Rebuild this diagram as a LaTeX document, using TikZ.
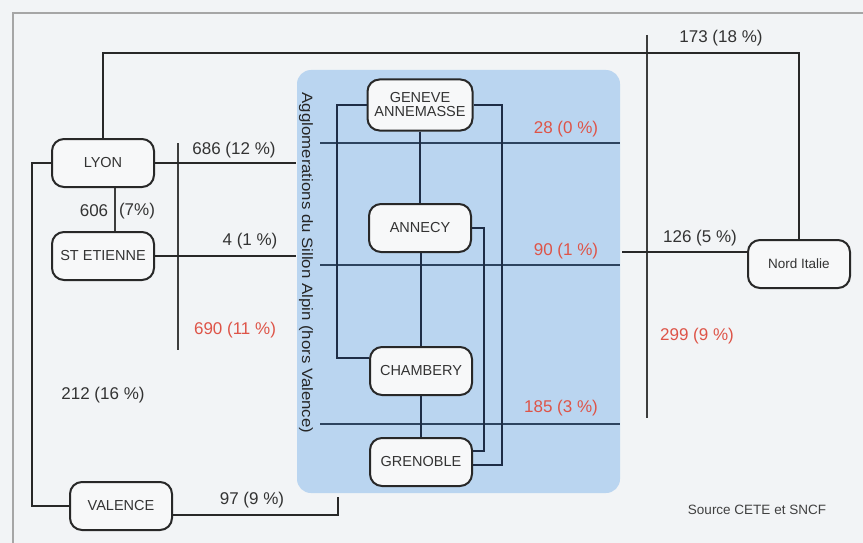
\documentclass[tikz,border=0pt]{standalone}
\usepackage{fontspec}
\setmainfont{Liberation Sans}
\usetikzlibrary{calc}
\definecolor{bgc}{RGB}{242,244,246}
\definecolor{bluebox}{RGB}{186,213,240}
\definecolor{redlbl}{RGB}{222,84,72}
\definecolor{linec}{RGB}{40,40,40}
\definecolor{navyc}{RGB}{30,45,70}
\definecolor{cutc}{RGB}{45,68,95}
\definecolor{nodefill}{RGB}{247,248,249}
\begin{document}
\begin{tikzpicture}[x=1pt,y=-1pt,
  city/.style={draw=linec, line width=2pt, rounded corners=12pt, fill=nodefill,
    minimum width=102pt, minimum height=48pt, align=center, inner sep=0pt,
    font=\fontsize{14.5}{15}\selectfont, text=black!80},
  link/.style={draw=linec, line width=2.4pt},
  thinlink/.style={draw=linec!90, line width=1.8pt},
  innerlink/.style={draw=navyc, line width=2.2pt},
  cutline/.style={draw=cutc, line width=1.5pt},
  lbl/.style={font=\fontsize{17}{19}\selectfont, text=black!80, inner sep=0pt},
  rlbl/.style={lbl, text=redlbl}]
% background and frame
\fill[bgc] (0,0) rectangle (863,543);
\useasboundingbox (0,0) rectangle (863,543);
\draw[gray!70, line width=1.5pt] (13,543) -- (13,13) -- (863,13);
% blue zone
\fill[bluebox, rounded corners=14pt] (297,70) rectangle (620,493);
% cut lines
\coordinate (c1a) at (320,143); \coordinate (c1b) at (620,143);
\coordinate (c2a) at (320,265); \coordinate (c2b) at (620,265);
\coordinate (c3a) at (320,424); \coordinate (c3b) at (620,424);
\draw[cutline] (c1a) -- (c1b);
\draw[cutline] (c2a) -- (c2b);
\draw[cutline] (c3a) -- (c3b);
% screen lines
\coordinate (v1a) at (178,143); \coordinate (v1b) at (178,350);
\draw[thinlink] (v1a) -- (v1b);
\coordinate (v2a) at (647,35); \coordinate (v2b) at (647,418);
\draw[thinlink] (v2a) -- (v2b);
% nodes
\node[city] (lyon) at (103,163) {LYON};
\node[city] (ste) at (103,256) {ST ETIENNE};
\node[city] (val) at (121,506) {VALENCE};
\node[city, minimum width=105pt, minimum height=51pt] (gen) at (420,105) {GENEVE\\[-1pt]ANNEMASSE};
\node[city] (ann) at (420,228) {ANNECY};
\node[city] (cha) at (421,371) {CHAMBERY};
\node[city] (gre) at (421,462) {GRENOBLE};
\node[city, font=\fontsize{13.5}{15}\selectfont] (ita) at (799,264) {Nord Italie};
% rotated title
\node[rotate=-90, inner sep=0pt, text=black!85] (title) at (306,263)
  {\scalebox{1.12}[1]{\fontsize{15}{17}\selectfont Agglomerations du Sillon Alpin (hors Valence)}};
% outer connectors
\coordinate (topy) at (450,53);
\draw[link] (lyon.north) |- (topy) -| (ita.north);
\coordinate (lefx) at (32,300);
\draw[link] (lyon.west) -| (lefx) |- (val.west);
\coordinate (boxL1) at (296,163);
\coordinate (boxL2) at (296,256);
\draw[link] (lyon.east) -- (boxL1);
\draw[link] (ste.east) -- (boxL2);
\coordinate (lsx) at (115,0);
\draw[thinlink] (lyon.south -| lsx) -- (ste.north -| lsx);
\coordinate (valR) at ($(val.east)+(0,9)$);
\coordinate (valC) at (338,515);
\coordinate (valT) at (338,497);
\draw[link] (valR) -- (valC) -- (valT);
\coordinate (itaL) at ($(ita.west)+(0,-12)$);
\coordinate (boxR) at (622,252);
\draw[link] (itaL) -- (boxR);
% inner connectors
\draw[innerlink] (gen.south -| ann.north) -- (ann.north);
\draw[innerlink] (ann.south -| cha.north) -- (cha.north);
\draw[innerlink] (cha.south) -- (gre.north);
\coordinate (chaL) at ($(cha.west)+(0,-13)$);
\coordinate (lx) at (337,0);
\draw[innerlink] (gen.west) -| (lx |- chaL) -- (chaL);
\coordinate (greR1) at ($(gre.east)+(0,3)$);
\coordinate (rx1) at (502,0);
\draw[innerlink] (gen.east) -| (rx1 |- greR1) -- (greR1);
\coordinate (greR2) at ($(gre.east)+(0,-11)$);
\coordinate (rx2) at (484,0);
\draw[innerlink] (ann.east) -| (rx2 |- greR2) -- (greR2);
% labels
\node[lbl] (l686) at (234,150) {686 (12 \%)};
\node[lbl] (l4) at (250,241) {4 (1 \%)};
\node[rlbl] (l690) at (235,330) {690 (11 \%)};
\node[lbl] (l606a) at (94,211) {606};
\node[lbl] (l606b) at (137,211) {(7\%)};
\node[lbl] (l212) at (103,395) {212 (16 \%)};
\node[lbl] (l97) at (252,500) {97 (9 \%)};
\node[rlbl] (l28) at (566,129) {28 (0 \%)};
\node[rlbl] (l90) at (566,251) {90 (1 \%)};
\node[rlbl] (l185) at (561,408) {185 (3 \%)};
\node[lbl] (l173) at (721,38) {173 (18 \%)};
\node[lbl] (l126) at (700,238) {126 (5 \%)};
\node[rlbl] (l299) at (697,336) {299 (9 \%)};
\node[font=\fontsize{13.5}{15}\selectfont, text=black!75, inner sep=0pt] (src) at (757,510) {Source CETE et SNCF};
\end{tikzpicture}
\end{document}
